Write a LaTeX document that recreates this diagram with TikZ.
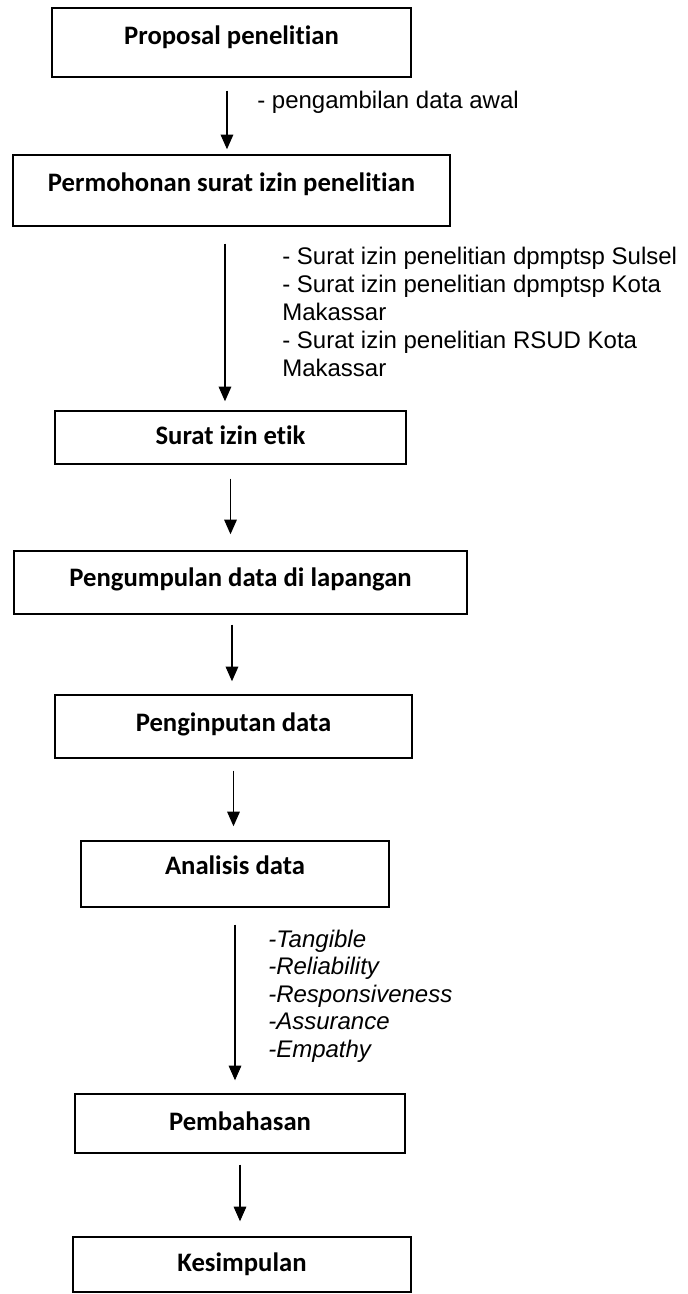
\documentclass[tikz,border=0pt]{standalone}
\usepackage{fontspec}
\setmainfont{Liberation Sans}
\newfontfamily\boxfont[Ligatures=NoCommon]{Carlito}
\usetikzlibrary{arrows.meta}

\tikzset{
  stepbox/.style={draw, line width=1.1pt, inner sep=0pt, text height=14pt, text depth=4pt,
    font=\boxfont\bfseries\fontsize{20pt}{24pt}\selectfont},
  flowarrow/.style={line width=0.8pt, -{Triangle[length=11pt,width=9.5pt]}},
  notetext/.style={anchor=north west, align=left, inner sep=0pt,
    font=\fontsize{18pt}{21pt}\selectfont},
}

\begin{document}
\begin{tikzpicture}[x=0.75pt, y=-0.75pt]
			%%%%% FRAME %%%%%
			\useasboundingbox[fill=white] (0,0) rectangle (687,1294);
			
			%%%%% BOXES %%%%%
			\node[stepbox, minimum width=269.25pt, minimum height=51.75pt, text depth=11pt] (proposal) at (231.5, 42.5) {Proposal penelitian};
			\node[stepbox, minimum width=327.75pt, minimum height=53.25pt, text depth=13pt] (permohonan) at (231.5, 190.5) {Permohonan surat izin penelitian};
			\node[stepbox, minimum width=263.25pt, minimum height=39.75pt] (etik) at (230.5, 437.5) {Surat izin etik};
			\node[stepbox, minimum width=339.75pt, minimum height=47.25pt, text depth=8pt] (pengumpulan) at (240.5, 582.5) {Pengumpulan data di lapangan};
			\node[stepbox, minimum width=267.75pt, minimum height=47.25pt, text depth=7pt] (penginputan) at (233.5, 726.5) {Penginputan data};
			\node[stepbox, minimum width=231pt, minimum height=49.5pt, text depth=13pt] (analisis) at (235, 874) {Analisis data};
			\node[stepbox, minimum width=247.5pt, minimum height=44.25pt] (pembahasan) at (240, 1123.5) {Pembahasan};
			\node[stepbox, minimum width=253.5pt, minimum height=41.25pt] (kesimpulan) at (242, 1264.5) {Kesimpulan};
			
			%%%%% ARROWS %%%%%
			\draw[flowarrow, shorten <=9.75pt, shorten >=3.75pt] ([xshift=-3.4pt]proposal.south) -- ([xshift=-3.4pt]proposal.south |- permohonan.north);
			\draw[flowarrow, shorten <=12.75pt, shorten >=6.75pt] ([xshift=-4.9pt]permohonan.south) -- ([xshift=-4.9pt]permohonan.south |- etik.north);
			\draw[flowarrow, shorten <=10.5pt, shorten >=12pt] (etik.south) -- (etik.south |- pengumpulan.north);
			\draw[flowarrow, shorten <=7.5pt, shorten >=9.75pt] ([xshift=-6.4pt]pengumpulan.south) -- ([xshift=-6.4pt]pengumpulan.south |- penginputan.north);
			\draw[flowarrow, shorten <=9pt, shorten >=10.5pt] (penginputan.south) -- (penginputan.south |- analisis.north);
			\draw[flowarrow, shorten <=12.75pt, shorten >=9.75pt] (analisis.south) -- (analisis.south |- pembahasan.north);
			\draw[flowarrow, shorten <=8.25pt, shorten >=11.25pt] (pembahasan.south) -- (pembahasan.south |- kesimpulan.north);
			
			%%%%% NOTES %%%%%
			\node[notetext] (awalnote) at (257, 91) {- pengambilan data awal};
			\node[notetext] (izinnote) at (282, 246.5) {- Surat izin penelitian dpmptsp Sulsel\\- Surat izin penelitian dpmptsp Kota\\Makassar\\- Surat izin penelitian RSUD Kota\\Makassar};
			\node[notetext, font=\itshape\fontsize{18pt}{20.6pt}\selectfont] (dimensinote) at (268, 929.5) {-Tangible\\-Reliability\\-Responsiveness\\-Assurance\\-Empathy};
\end{tikzpicture}
\end{document}
